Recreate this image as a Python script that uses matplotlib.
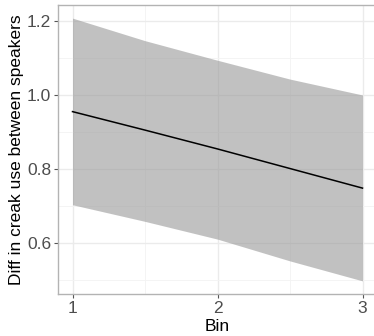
import numpy as np
import matplotlib.pyplot as plt

# estimated model fit: bin vs difference in creak use
bins = [1, 1.5, 2, 2.5, 3]
fit = [0.955, 0.905, 0.854, 0.801, 0.748]
lower = [0.703, 0.658, 0.610, 0.551, 0.497]
upper = [1.208, 1.147, 1.094, 1.043, 1.000]

plt.rcParams['font.family'] = ['Liberation Sans', 'DejaVu Sans']

fig = plt.figure(figsize=(3.74, 3.36), dpi=100)
W, H = 374, 336
ax = fig.add_axes([58 / W, 1 - 294 / H, 319 / W, 289 / H])

ax.fill_between(bins, lower, upper, color='#999999', alpha=0.6, lw=0, zorder=2)
ax.plot(bins, fit, color='black', lw=1.1, zorder=3)

ax.set_xlim(0.9, 3.1)
ax.set_ylim(0.4615, 1.2435)
ax.set_xticks([1, 2, 3])
ax.set_xticks([1.5, 2.5], minor=True)
ax.set_yticks([0.6, 0.8, 1.0, 1.2])
ax.set_yticks([0.5, 0.7, 0.9, 1.1], minor=True)
ax.set_yticklabels(['0.6', '0.8', '1.0', '1.2'])

ax.grid(which='major', color='#ebebeb', lw=1.0, zorder=0)
ax.grid(which='minor', color='#f3f3f3', lw=0.6, zorder=0)
ax.set_axisbelow(True)

for s in ax.spines.values():
    s.set_color('#b3b3b3')
    s.set_linewidth(1.0)

ax.tick_params(which='major', length=3, color='#555555', labelcolor='#4d4d4d',
               labelsize=12.5, pad=2)
ax.tick_params(which='minor', length=0)

ax.set_xlabel('Bin', fontsize=12.5, labelpad=2)
ax.set_ylabel('Diff in creak use between speakers', fontsize=12.5, labelpad=2)

fig.savefig('out.png', dpi=100)
